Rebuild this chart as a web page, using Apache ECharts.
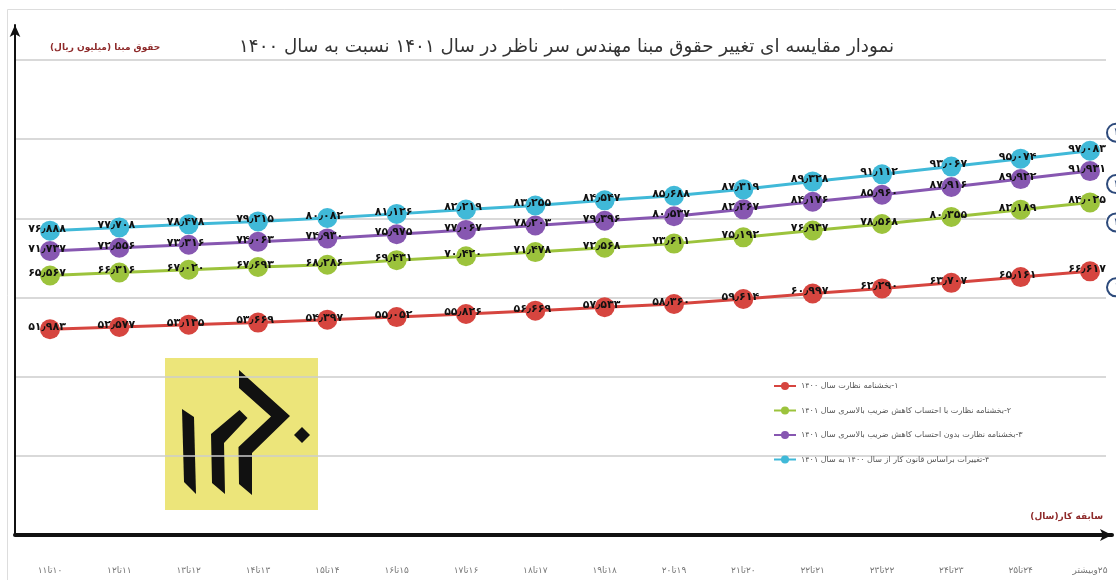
<!DOCTYPE html>
<html>
<head>
<meta charset="utf-8">
<script src="https://cdn.jsdelivr.net/npm/echarts@6/dist/echarts.min.js"></script>
<style>
  html, body { margin: 0; padding: 0; background: #ffffff; }
  #chart { width: 1116px; height: 580px; }
</style>
</head>
<body>
<div id="chart"></div>
<script>
// Work-experience bands (years)
const categories = [
  '۱۰تا۱۱', '۱۱تا۱۲', '۱۲تا۱۳', '۱۳تا۱۴', '۱۴تا۱۵', '۱۵تا۱۶', '۱۶تا۱۷', '۱۷تا۱۸',
  '۱۸تا۱۹', '۱۹تا۲۰', '۲۰تا۲۱', '۲۱تا۲۲', '۲۲تا۲۳', '۲۳تا۲۴', '۲۴تا۲۵', '۲۵وبیشتر'
];

const seriesNames = [
  '۱-بخشنامه نظارت سال ۱۴۰۰',
  '۲-بخشنامه نظارت با احتساب کاهش ضریب بالاسری سال ۱۴۰۱',
  '۳-بخشنامه نظارت بدون احتساب کاهش ضریب بالاسری سال ۱۴۰۱',
  '۴-تغییرات براساس قانون کار از سال ۱۴۰۰ به سال ۱۴۰۱'
];
const seriesTags = ['۱', '۲', '۳', '۴'];

// Base salary, million rials
const salary1400 = [51.983, 52.577, 53.135, 53.669, 54.397, 55.052, 55.826, 56.669,
  57.533, 58.360, 59.614, 60.997, 62.290, 63.707, 65.161, 66.617];
const withOverheadCut1401 = [65.567, 66.316, 67.020, 67.693, 68.286, 69.431, 70.420, 71.478,
  72.568, 73.611, 75.192, 76.937, 78.568, 80.355, 82.189, 84.025];
const withoutOverheadCut1401 = [71.737, 72.556, 73.316, 74.063, 74.930, 75.975, 77.067, 78.203,
  79.396, 80.537, 82.267, 84.176, 85.960, 87.916, 89.922, 91.931];
const laborLaw1401 = [76.888, 77.708, 78.478, 79.215, 80.082, 81.126, 82.219, 83.255,
  84.547, 85.688, 87.319, 89.328, 91.112, 93.067, 95.074, 97.083];

// Value axis range and gridline step
const yMin = 0, yMax = 120, yStep = 20;

const titleText = 'نمودار مقایسه ای تغییر حقوق مبنا مهندس سر ناظر در سال ۱۴۰۱ نسبت به سال ۱۴۰۰';
const yAxisTitle = 'حقوق مبنا (میلیون ریال)';
const xAxisTitle = 'سابقه کار(سال)';

const RLM = '\u200F';
const FA_DIGITS = '۰۱۲۳۴۵۶۷۸۹';
function toFa(v) {
  return v.toFixed(3).replace('.', '٫').replace(/\d/g, d => FA_DIGITS[+d]);
}

const FONT = 'DejaVu Sans';
const colors = ['#d6453f', '#9cc33c', '#8757b1', '#40b9d8'];
const tagOffsets = [[19, 16], [19, 20], [19, 13], [19, -18]];
const dataSets = [salary1400, withOverheadCut1401, withoutOverheadCut1401, laborLaw1401];

const series = dataSets.map((values, i) => ({
  type: 'line',
  name: seriesNames[i],
  xAxisIndex: 0,
  yAxisIndex: 0,
  data: values,
  symbol: 'circle',
  symbolSize: 20,
  z: 3 + i,
  lineStyle: { width: 3, color: colors[i] },
  itemStyle: { color: colors[i] },
  label: {
    show: true,
    position: 'inside',
    offset: [-3, -2],
    formatter: p => toFa(p.value),
    color: '#111',
    fontFamily: FONT,
    fontWeight: 'bold',
    fontSize: 11
  },
  endLabel: {
    show: true,
    formatter: () => seriesTags[i],
    align: 'center',
    verticalAlign: 'middle',
    offset: tagOffsets[i],
    color: '#2d4a7b',
    fontFamily: FONT,
    fontSize: 10,
    backgroundColor: '#ffffff',
    borderColor: '#2d4a7b',
    borderWidth: 2,
    borderRadius: 10,
    width: 14,
    height: 14,
    lineHeight: 14,
    padding: [1, 2]
  }
}));

const chart = echarts.init(document.getElementById('chart'), null, { renderer: 'canvas' });

chart.setOption({
  animation: false,
  backgroundColor: '#ffffff',
  textStyle: { fontFamily: FONT },
  title: [
    {
      text: RLM + titleText,
      left: 234, top: 33,
      textStyle: { fontFamily: FONT, fontSize: 18.3, fontWeight: 'normal', color: '#333' }
    },
    {
      text: RLM + yAxisTitle,
      left: 45, top: 38,
      textStyle: { fontFamily: FONT, fontSize: 9, fontWeight: 'bold', color: '#8e2a2a' }
    },
    {
      text: RLM + xAxisTitle,
      right: 8, top: 507,
      textStyle: { fontFamily: FONT, fontSize: 9, fontWeight: 'bold', color: '#8e2a2a' }
    }
  ],
  legend: {
    orient: 'vertical',
    left: 768, top: 377,
    itemWidth: 22, itemHeight: 10, itemGap: 16.5,
    data: seriesNames,
    formatter: name => RLM + name,
    textStyle: { fontFamily: FONT, fontSize: 8, color: '#555' }
  },
  grid: [
    { left: 50, right: 26, top: 60, bottom: 45 },   // data
    { left: 15, right: 10, top: 60, bottom: 45 },   // gridlines
    { left: 15, right: 4, top: 25, bottom: 45 }     // axis arrows
  ],
  xAxis: [
    {
      gridIndex: 0, type: 'category', data: categories, boundaryGap: false,
      axisLine: { show: false }, axisTick: { show: false }, splitLine: { show: false },
      axisLabel: { margin: 31, fontFamily: FONT, fontSize: 9, color: '#777', formatter: v => RLM + v }
    },
    { gridIndex: 1, type: 'value', show: false },
    {
      gridIndex: 2, type: 'value', min: 0, max: 1,
      axisLine: { show: true, onZero: false, lineStyle: { color: '#111', width: 4 }, symbol: ['none', 'arrow'], symbolSize: [9, 12] },
      axisTick: { show: false }, axisLabel: { show: false }, splitLine: { show: false }
    }
  ],
  yAxis: [
    { gridIndex: 0, type: 'value', min: yMin, max: yMax, interval: yStep, show: false },
    {
      gridIndex: 1, type: 'value', min: yMin, max: yMax, interval: yStep,
      axisLine: { show: false }, axisTick: { show: false }, axisLabel: { show: false },
      splitLine: { show: true, lineStyle: { color: '#cdcdcd', width: 1.5 } }
    },
    {
      gridIndex: 2, type: 'value', min: 0, max: 1,
      axisLine: { show: true, onZero: false, lineStyle: { color: '#111', width: 2 }, symbol: ['none', 'arrow'], symbolSize: [8, 12] },
      axisTick: { show: false }, axisLabel: { show: false }, splitLine: { show: false }
    }
  ],
  graphic: [
    {
      type: 'rect', z: 0, silent: true,
      shape: { x: 7.5, y: 9.5, width: 1120, height: 580 },
      style: { fill: 'none', stroke: '#dddddd', lineWidth: 1 }
    },
    {
      type: 'group', z: 20, silent: true,
      children: [
        { type: 'rect', shape: { x: 165, y: 358, width: 153, height: 152 }, style: { fill: '#ece57a' } },
        { type: 'polygon', shape: { points: [[182, 409], [194, 417], [196, 494], [184, 482]] }, style: { fill: '#111' } },
        { type: 'polygon', shape: { points: [[211, 434], [239.5, 410], [247.5, 418], [224, 443], [225, 494], [212, 483]] }, style: { fill: '#111' } },
        { type: 'polygon', shape: { points: [[239, 370], [290, 416], [252, 453], [252, 495], [239, 484], [238.5, 447], [271, 416.5], [239, 388]] }, style: { fill: '#111' } },
        { type: 'polygon', shape: { points: [[302, 427], [310, 435], [302, 443], [294, 435]] }, style: { fill: '#111' } }
      ]
    }
  ],
  series: series
});
</script>
</body>
</html>
